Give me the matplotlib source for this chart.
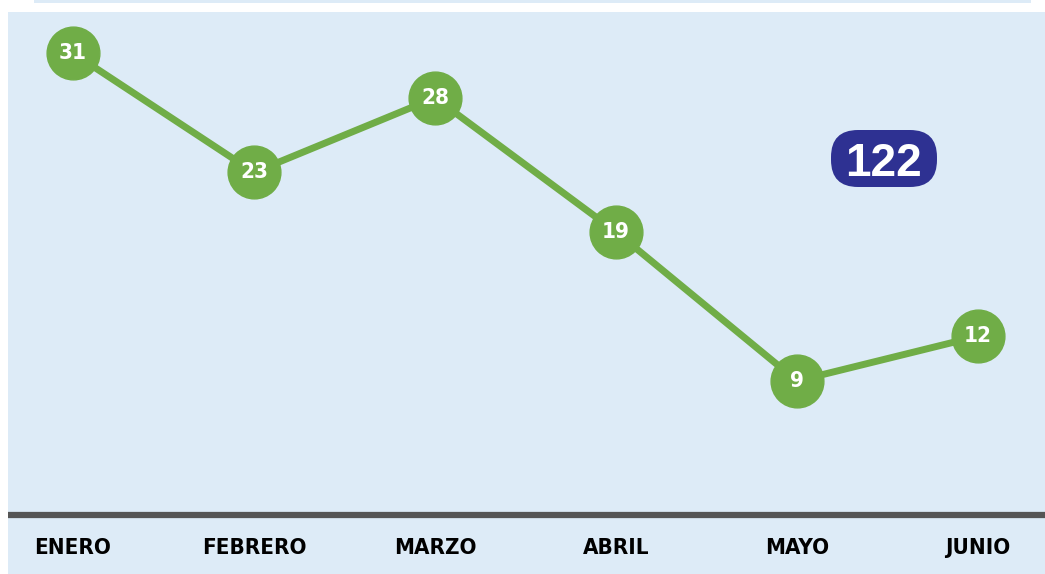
import matplotlib.pyplot as plt
from matplotlib.patches import Rectangle, FancyBboxPatch

months = ['ENERO', 'FEBRERO', 'MARZO', 'ABRIL', 'MAYO', 'JUNIO']
values = [31, 23, 28, 19, 9, 12]
total = 122

green = '#70AD47'
panel = '#DDEBF7'
navy = '#2E3192'

W, H = 1045, 574
fig = plt.figure(figsize=(W / 100, H / 100), dpi=100)

# background panel and thin top strip
fig.patches.append(Rectangle((8 / W, 0), 1 - 8 / W, 562 / H, transform=fig.transFigure,
                             facecolor=panel, edgecolor='none', zorder=-5))
fig.patches.append(Rectangle((34 / W, 571 / H), 997 / W, 3 / H, transform=fig.transFigure,
                             facecolor=panel, edgecolor='none', zorder=-5))

ax = fig.add_axes([8 / W, (574 - 515) / H, 1037 / W, 503 / H])
ax.set_facecolor('none')
x = list(range(len(months)))
ax.plot(x, values, color=green, lw=5, marker='o', markersize=38,
        markerfacecolor=green, markeredgecolor=green, zorder=3)
for xi, v in zip(x, values):
    ax.text(xi, v, str(v), color='white', fontsize=16, fontweight='bold',
            family='DejaVu Sans', fontstretch='condensed',
            ha='center', va='center', zorder=4)

ax.set_xlim(-0.359, 5.37)
ax.set_ylim(0, 33.76)
ax.axis('off')

# baseline
ax.axhline(0, color='#555555', lw=4.5, solid_capstyle='butt', clip_on=False, zorder=2)

# month labels
for xi, m in zip(x, months):
    ax.text(xi, -0.065, m, transform=ax.get_xaxis_transform(), fontsize=16, fontweight='bold',
            family='DejaVu Sans', fontstretch='condensed',
            ha='center', va='center', color='black')

# total badge (pixel-based box, rounded ends)
bx0, by0, bw, bh = 831, 130, 106, 57
badge = FancyBboxPatch((bx0 / W, (H - by0 - bh) / H), bw / W, bh / H,
                       boxstyle='round,pad=0,rounding_size=%f' % (27 / W),
                       mutation_aspect=W / H, transform=fig.transFigure,
                       facecolor=navy, edgecolor='none', zorder=5)
fig.patches.append(badge)
fig.text((bx0 + bw / 2) / W, (H - by0 - bh / 2) / H, str(total), color='white',
         fontsize=33, fontweight='bold', family='Liberation Sans',
         ha='center', va='center_baseline', zorder=6)

fig.savefig('out.png', dpi=100)
